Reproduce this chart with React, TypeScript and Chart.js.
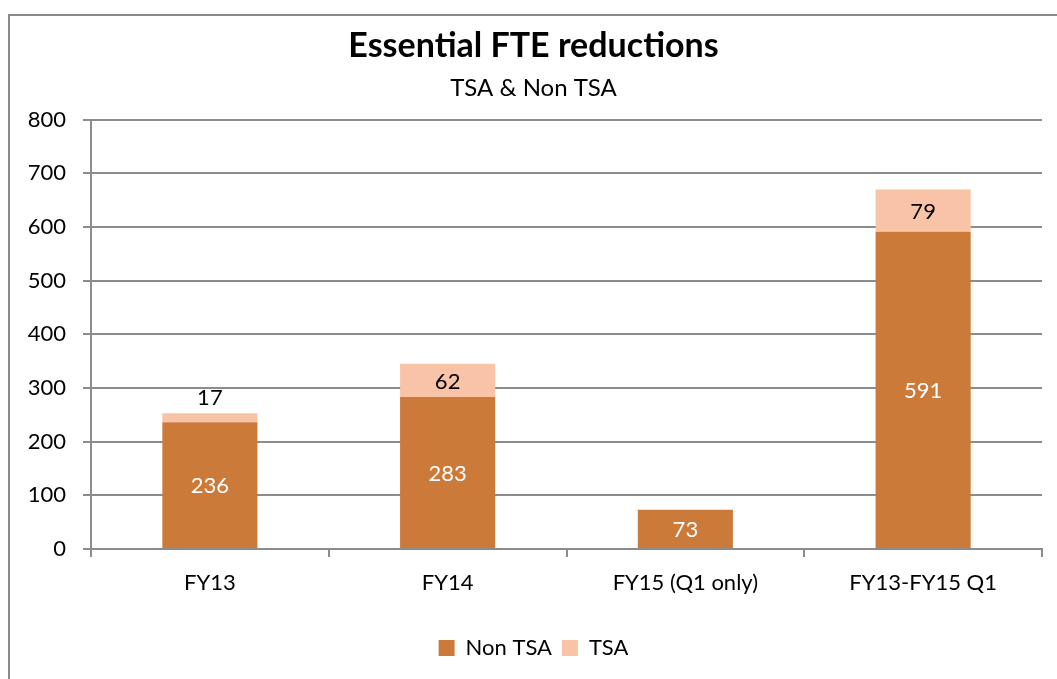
import React, { useEffect, useRef } from "react";
import { Chart, registerables } from "chart.js";

Chart.register(...registerables);

const titleText = "Essential FTE reductions";
const subtitleText = "TSA & Non TSA";
const categories = ["FY13", "FY14", "FY15 (Q1 only)", "FY13-FY15 Q1"];
const nonTsaValues = [236, 283, 73, 591];
const tsaValues = [17, 62, 0, 79];
const seriesNames = ["Non TSA", "TSA"];
const yMin = 0;
const yMax = 800;
const yStep = 100;

const NON_TSA_COLOR = "#CC7A3A";
const TSA_COLOR = "#F9C3A8";
const GRID_COLOR = "#8c8c8c";
const FONT = "Lato, 'Open Sans', sans-serif";

const valueLabelPlugin = {
  id: "valueLabels",
  afterDatasetsDraw(chart: any) {
    const ctx = chart.ctx;
    ctx.save();
    ctx.font = `22px ${FONT}`;
    ctx.textAlign = "center";
    ctx.textBaseline = "middle";
    chart.data.datasets.forEach((ds: any, di: number) => {
      const meta = chart.getDatasetMeta(di);
      meta.data.forEach((bar: any, i: number) => {
        const v = ds.data[i];
        if (!v) return;
        const top = Math.min(bar.y, bar.base);
        const bottom = Math.max(bar.y, bar.base);
        let y = (top + bottom) / 2;
        if (bottom - top < 24) y = top - 16;
        ctx.fillStyle = di === 0 ? "#ffffff" : "#000000";
        ctx.fillText(String(v), bar.x, y + 1);
      });
    });
    ctx.restore();
  },
};

export default function App() {
  const ref = useRef<HTMLCanvasElement>(null);

  useEffect(() => {
    if (!ref.current) return;
    const chart = new Chart(ref.current, {
      type: "bar",
      data: {
        labels: categories,
        datasets: [
          {
            label: seriesNames[0],
            data: nonTsaValues,
            backgroundColor: NON_TSA_COLOR,
            borderWidth: 0,
            barPercentage: 0.4,
            categoryPercentage: 1.0,
          },
          {
            label: seriesNames[1],
            data: tsaValues,
            backgroundColor: TSA_COLOR,
            borderWidth: 0,
            barPercentage: 0.4,
            categoryPercentage: 1.0,
          },
        ],
      },
      options: {
        responsive: false,
        animation: false,
        devicePixelRatio: 1,
        layout: { padding: { left: 25, right: 15, top: 0, bottom: 10 } },
        plugins: {
          title: {
            display: true,
            text: titleText,
            color: "#000",
            font: { family: FONT, size: 34, weight: "bold" },
            padding: { top: 26, bottom: 0 },
          },
          subtitle: {
            display: true,
            text: subtitleText,
            color: "#000",
            font: { family: FONT, size: 24 },
            padding: { top: 7, bottom: 17 },
          },
          legend: {
            display: true,
            position: "bottom",
            labels: {
              color: "#000",
              font: { family: FONT, size: 22 },
              boxWidth: 16,
              boxHeight: 16,
              padding: 10,
            },
          },
          tooltip: { enabled: false },
        },
        scales: {
          x: {
            stacked: true,
            afterFit: (s: any) => {
              s.height = 78;
            },
            grid: {
              display: true,
              drawOnChartArea: false,
              drawTicks: true,
              tickLength: 8,
              color: GRID_COLOR,
              lineWidth: 2,
            },
            border: { display: true, color: GRID_COLOR, width: 2 },
            ticks: {
              color: "#000",
              font: { family: FONT, size: 22 },
              padding: 13,
              maxRotation: 0,
            },
          },
          y: {
            stacked: true,
            min: yMin,
            max: yMax,
            afterFit: (s: any) => {
              s.width = 66;
            },
            grid: {
              color: GRID_COLOR,
              lineWidth: 2,
              drawTicks: true,
              tickLength: 8,
            },
            border: { display: true, color: GRID_COLOR, width: 2 },
            ticks: {
              stepSize: yStep,
              color: "#000",
              font: { family: FONT, size: 22 },
              padding: 17,
            },
          },
        },
      },
      plugins: [valueLabelPlugin],
    });
    return () => chart.destroy();
  }, []);

  return (
    <div style={{ position: "absolute", left: 0, top: 0, width: 1057, height: 679, overflow: "hidden" }}>
      <div
        style={{
          position: "absolute",
          left: 8,
          top: 14,
          width: 1049,
          height: 665,
          boxSizing: "border-box",
          borderTop: "2px solid #8a8a8a",
          borderLeft: "2px solid #8a8a8a",
          background: "#fff",
        }}
      />
      <canvas
        ref={ref}
        width={1057}
        height={679}
        style={{ position: "absolute", left: 0, top: 0, width: 1057, height: 679 }}
      />
    </div>
  );
}
